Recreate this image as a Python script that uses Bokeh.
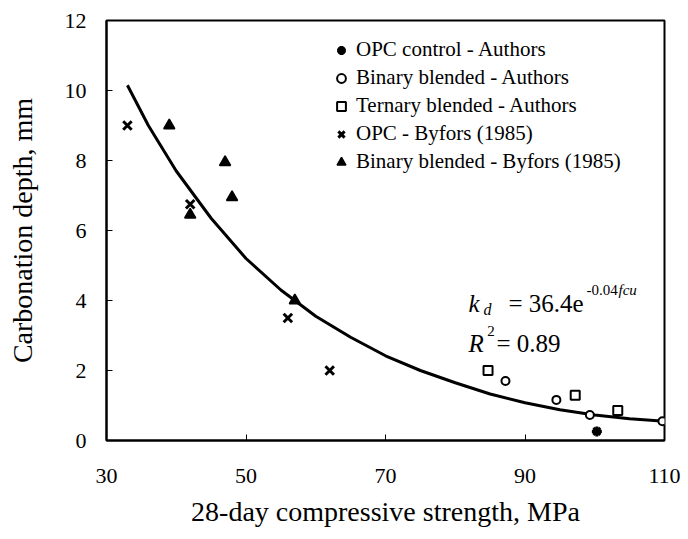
from bokeh.plotting import figure
from bokeh.models import Legend, LegendItem, Label, Range1d, FixedTicker
from bokeh.embed import file_html
from bokeh.resources import INLINE

# ---- data ----
opc_ctrl_x = [100.3]
opc_ctrl_y = [0.26]

bin_auth_x = [87.2, 94.5, 99.3, 109.7]
bin_auth_y = [1.70, 1.16, 0.73, 0.55]

ter_auth_x = [84.7, 97.2, 103.3]
ter_auth_y = [2.00, 1.29, 0.86]

opc_byf_x = [33.0, 42.0, 56.0, 62.0]
opc_byf_y = [9.0, 6.75, 3.5, 2.0]

bin_byf_x = [39.0, 42.0, 47.0, 48.0, 57.0]
bin_byf_y = [9.0, 6.45, 7.95, 6.95, 4.0]

fit_x = [33, 36, 40, 45, 50, 55, 60, 65, 70, 75, 80, 85, 90, 95, 100, 105, 110]
fit_y = [10.15, 9.0, 7.7, 6.35, 5.2, 4.3, 3.55, 2.95, 2.42, 2.0, 1.65, 1.33,
         1.08, 0.88, 0.73, 0.62, 0.55]

x_ticks = [30, 50, 70, 90, 110]
y_ticks = [0, 2, 4, 6, 8, 10, 12]

series_labels = ["OPC control - Authors", "Binary blended - Authors",
                 "Ternary blended - Authors", "OPC - Byfors (1985)",
                 "Binary blended - Byfors (1985)"]

FONT = "Liberation Serif"

p = figure(width=688, height=539, output_backend="svg", toolbar_location=None,
           x_range=Range1d(30, 110), y_range=Range1d(0, 12),
           min_border_left=106, min_border_right=24, min_border_top=20,
           min_border_bottom=99)

p.grid.visible = False
p.outline_line_color = "black"
p.outline_line_width = 2
p.background_fill_color = "white"
p.border_fill_color = "white"

for ax in (p.xaxis[0], p.yaxis[0]):
    ax.axis_line_width = 2
    ax.axis_line_color = "black"
    ax.major_tick_in = 6
    ax.major_tick_out = 0
    ax.major_tick_line_width = 1
    ax.minor_tick_line_color = None
    ax.major_label_text_font = FONT
    ax.major_label_text_font_size = "22px"
    ax.major_label_text_color = "black"
    ax.axis_label_text_font = FONT
    ax.axis_label_text_font_size = "28px"
    ax.axis_label_text_font_style = "normal"
    ax.axis_label_text_color = "black"

p.xaxis.ticker = FixedTicker(ticks=x_ticks)
p.yaxis.ticker = FixedTicker(ticks=y_ticks)
p.xaxis.axis_label = "28-day compressive strength, MPa"
p.yaxis.axis_label = "Carbonation depth, mm"
p.xaxis.major_label_standoff = 28
p.xaxis.axis_label_standoff = 10
p.yaxis.major_label_standoff = 20
p.yaxis.axis_label_standoff = 24

# fitted curve
p.line(fit_x, fit_y, line_color="black", line_width=3)

r1 = p.scatter(opc_ctrl_x, opc_ctrl_y, marker="asterisk", size=10,
               line_color="black", line_width=3)
r2 = p.scatter(bin_auth_x, bin_auth_y, marker="circle", size=8,
               line_color="black", fill_color="white", line_width=2)
r3 = p.scatter(ter_auth_x, ter_auth_y, marker="square", size=9,
               line_color="black", fill_color="white", line_width=2)
r4 = p.scatter(opc_byf_x, opc_byf_y, marker="x", size=12,
               line_color="black", line_width=3)
r5 = p.scatter(bin_byf_x, bin_byf_y, marker="triangle", size=11,
               line_color="black", fill_color="black", line_width=1.5)

legend = Legend(items=[LegendItem(label=lab, renderers=[r])
                       for lab, r in zip(series_labels, [r1, r2, r3, r4, r5])],
                location=(224, 266), padding=0, margin=0, spacing=3,
                glyph_width=22, glyph_height=22, label_height=22,
                label_standoff=4, label_text_font=FONT,
                label_text_font_size="21px", label_text_color="black",
                background_fill_alpha=0, border_line_alpha=0)
p.add_layout(legend, "center")

# equation annotation
def lab(x, y, text, size, style="normal"):
    p.add_layout(Label(x=x, y=y, text=text, text_font=FONT,
                       text_font_size=size, text_font_style=style,
                       text_color="black", text_baseline="alphabetic"))

lab(81.9, 3.91, "k", "25px", "italic")
lab(84.05, 3.74, "d", "16px", "italic")
lab(87.63, 3.91, "= 36.4e", "25px")
lab(98.8, 4.29, "-0.04", "15px")
lab(103.4, 4.29, "fcu", "15px", "italic")

lab(81.9, 2.77, "R", "25px", "italic")
lab(84.6, 3.14, "2", "15px")
lab(85.9, 2.77, "= 0.89", "25px")

open("out.html", "w").write(file_html(p, INLINE))
